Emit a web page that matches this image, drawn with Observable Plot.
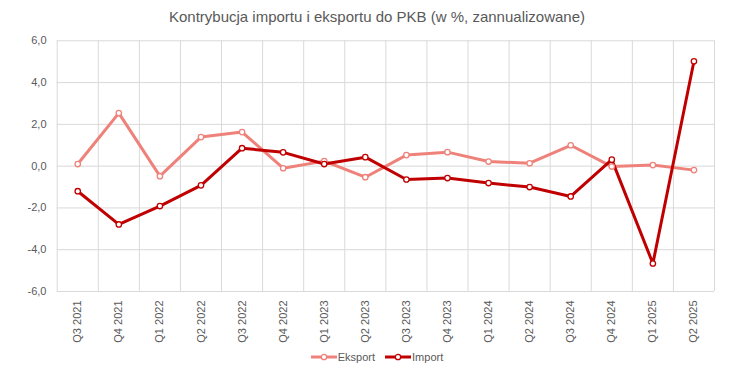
<!DOCTYPE html>
<html>
<head>
<meta charset="utf-8">
<script src="https://cdn.jsdelivr.net/npm/d3@7"></script>
<script src="https://cdn.jsdelivr.net/npm/@observablehq/plot@0.6"></script>
<style>
  body { margin: 0; background: #fff; font-family: "Liberation Sans", Arial, sans-serif; }
  #wrap { width: 754px; height: 381px; position: relative; overflow: hidden; }
  #title { height: 30px; line-height: 34px; text-align: center; font-size: 15px; color: #595959; }
  #legend { height: 31px; display: flex; justify-content: center; align-items: flex-start; font-size: 11px; color: #595959; gap: 10px; }
  .item { display: flex; align-items: center; height: 14px; }
  .item svg { margin-right: 1px; }
</style>
</head>
<body>
<div id="wrap">
  <div id="title">Kontrybucja importu i eksportu do PKB (w %, zannualizowane)</div>
  <div id="chart"></div>
  <div id="legend"></div>
</div>
<script>
const quarters = ["Q3 2021","Q4 2021","Q1 2022","Q2 2022","Q3 2022","Q4 2022","Q1 2023","Q2 2023","Q3 2023","Q4 2023","Q1 2024","Q2 2024","Q3 2024","Q4 2024","Q1 2025","Q2 2025"];
const eksport = [0.10, 2.54, -0.48, 1.39, 1.63, -0.10, 0.24, -0.53, 0.53, 0.67, 0.22, 0.14, 1.00, -0.02, 0.05, -0.19];
const importV = [-1.20, -2.79, -1.91, -0.92, 0.86, 0.66, 0.10, 0.43, -0.64, -0.57, -0.81, -1.00, -1.45, 0.31, -4.66, 5.02];
const yTicks = [-6, -4, -2, 0, 2, 4, 6];
const seriesNames = ["Eksport", "Import"];
const colors = ["#EE827A", "#C00000"];

const rows = [];
quarters.forEach((q, i) => {
  rows.push({series: seriesNames[0], i, v: eksport[i]});
  rows.push({series: seriesNames[1], i, v: importV[i]});
});
const bounds = d3.range(quarters.length + 1).map(k => k - 0.5);
const fmt = d => d.toFixed(1).replace(".", ",");

const chart = Plot.plot({
  width: 754,
  height: 320,
  marginTop: 10.3,
  marginBottom: 59,
  marginLeft: 56.7,
  marginRight: 40,
  style: {fontFamily: "'Liberation Sans', Arial, sans-serif", fontSize: "11px", color: "#595959"},
  x: {type: "linear", domain: [-0.5, quarters.length - 0.5], axis: null, label: null},
  y: {domain: [-6, 6], axis: null, label: null},
  color: {domain: seriesNames, range: colors},
  marks: [
    Plot.ruleY(yTicks, {stroke: "#d9d9d9", strokeWidth: 1}),
    Plot.ruleX(bounds, {stroke: "#d9d9d9", strokeWidth: 1, y1: -6, y2: 6}),
    Plot.axisY(yTicks, {tickSize: 0, tickPadding: 10.7, tickFormat: fmt, fill: "#595959", fontSize: 11, label: null}),
    Plot.axisX(d3.range(quarters.length), {tickSize: 0, tickPadding: 9, tickRotate: -90, tickFormat: i => quarters[i], fill: "#595959", fontSize: 11, label: null}),
    Plot.line(rows, {x: "i", y: "v", z: "series", stroke: "series", strokeWidth: 3, strokeLinejoin: "round", strokeLinecap: "round"}),
    Plot.dot(rows, {x: "i", y: "v", stroke: "series", fill: "white", r: 2.7, strokeWidth: 1.3})
  ]
});
document.getElementById("chart").appendChild(chart);

const legend = document.getElementById("legend");
seriesNames.forEach((name, k) => {
  const item = document.createElement("div");
  item.className = "item";
  item.innerHTML = `<svg width="26" height="10"><line x1="0" x2="26" y1="5" y2="5" stroke="${colors[k]}" stroke-width="3"/><circle cx="13" cy="5" r="2.7" fill="white" stroke="${colors[k]}" stroke-width="1.3"/></svg><span>${name}</span>`;
  legend.appendChild(item);
});
</script>
</body>
</html>
